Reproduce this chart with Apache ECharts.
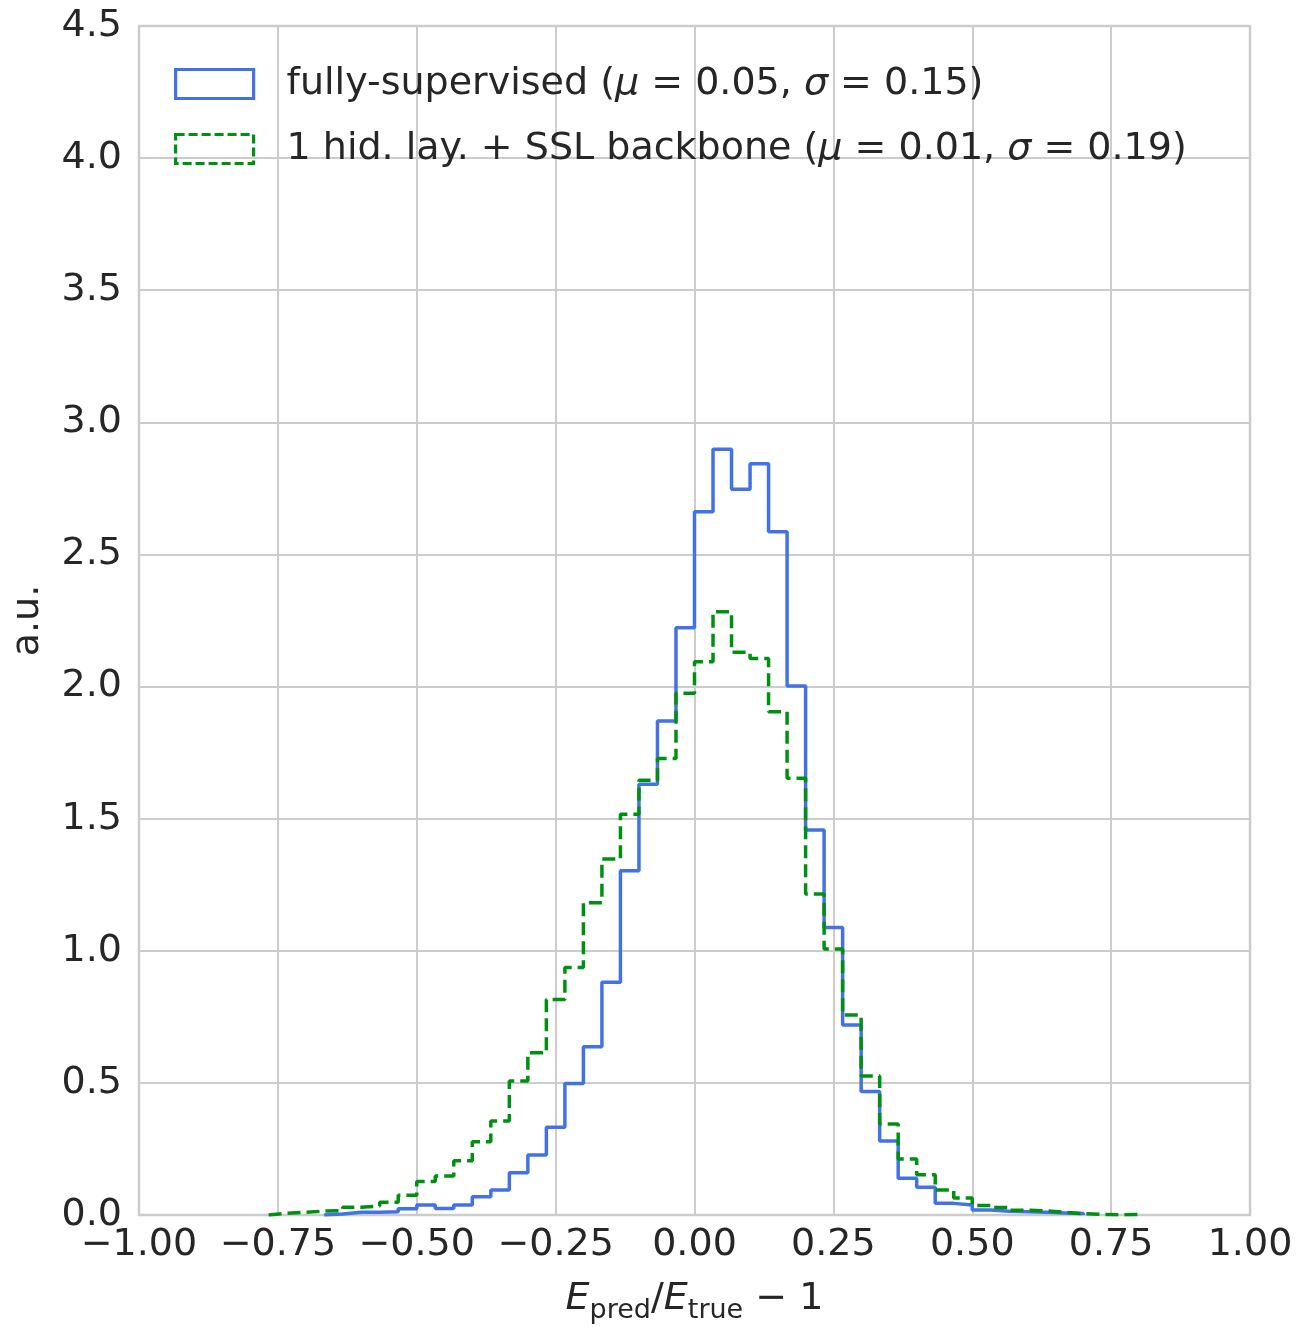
<!DOCTYPE html>
<html>
<head>
<meta charset="utf-8">
<script src="https://cdn.jsdelivr.net/npm/echarts@6/dist/echarts.min.js"></script>
<style>
  html, body { margin: 0; padding: 0; background: #fff; }
  #chart { width: 1300px; height: 1327px; }
</style>
</head>
<body>
<div id="chart"></div>
<script>
// histogram bins: width 1/30, first listed bin starts at -23/30
const binWidth = 1 / 30;
const firstEdge = -23 / 30;

// bin heights (a.u.), one per bin from firstEdge onward
const fullySupervised = [
  0, 0, 0, 0.004, 0.01, 0.01, 0.012, 0.024, 0.038, 0.025,
  0.038, 0.069, 0.095, 0.160, 0.227, 0.332, 0.498, 0.637, 0.881, 1.303,
  1.630, 1.870, 2.223, 2.662, 2.898, 2.747, 2.843, 2.586, 2.002, 1.457,
  1.088, 0.719, 0.467, 0.280, 0.139, 0.105, 0.044, 0.038, 0.019, 0.014,
  0.012, 0.010, 0.008, 0.006, 0, 0, 0
];
const sslBackbone = [
  0.007, 0.010, 0.015, 0.017, 0.029, 0.034, 0.048, 0.075, 0.127, 0.148,
  0.205, 0.277, 0.356, 0.507, 0.614, 0.816, 0.937, 1.182, 1.347, 1.517,
  1.645, 1.728, 1.975, 2.094, 2.283, 2.130, 2.106, 1.905, 1.653, 1.215,
  1.007, 0.757, 0.526, 0.344, 0.212, 0.152, 0.095, 0.064, 0.036, 0.028,
  0.018, 0.016, 0.010, 0.005, 0.002, 0.001, 0.002
];

const yTicks = [0, 0.5, 1, 1.5, 2, 2.5, 3, 3.5, 4, 4.5];
const xTicks = [-1, -0.75, -0.5, -0.25, 0, 0.25, 0.5, 0.75, 1];

const names = [
  '{n|fully-supervised (}{i|μ}{n| = 0.05, }{i|σ}{n| = 0.15)}',
  '{n|1 hid. lay. + SSL backbone (}{i|μ}{n| = 0.01, }{i|σ}{n| = 0.19)}'
];

// turn bin heights into step-line points (left edge of each bin)
function stepPoints(vals) {
  let a = 0, b = vals.length - 1;
  while (a < b && vals[a] === 0) a++;
  while (b > a && vals[b] === 0) b--;
  const pts = [[firstEdge + a * binWidth, 0]];
  for (let k = a; k <= b; k++) pts.push([firstEdge + k * binWidth, vals[k]]);
  pts.push([firstEdge + (b + 1) * binWidth, vals[b]]);
  pts.push([firstEdge + (b + 1) * binWidth, 0]);
  return pts;
}

const fmtMinus = s => s.replace('-', '\u2212');
const textColor = '#262626';
const font = 'DejaVu Sans';
const fs = 38;
const blue = '#4272e6';
const green = '#00900f';

const chart = echarts.init(document.getElementById('chart'), null, { renderer: 'canvas' });

chart.setOption({
  backgroundColor: '#ffffff',
  animation: false,
  textStyle: { fontFamily: font, color: textColor },
  grid: {
    left: 139, right: 50, top: 26, bottom: 112,
    containLabel: false, outerBoundsMode: 'none',
    show: true, borderColor: '#cccccc', borderWidth: 2.5, backgroundColor: 'transparent'
  },
  legend: {
    orient: 'vertical',
    left: 169, top: 60,
    itemWidth: 78, itemHeight: 29, itemGap: 27,
    icon: 'rect',
    textStyle: {
      fontFamily: font, color: textColor, fontSize: fs, padding: [0, 0, 0, 28],
      rich: {
        n: { fontFamily: font, fontSize: fs, lineHeight: 38, color: textColor },
        i: { fontFamily: font, fontSize: fs, lineHeight: 38, color: textColor, fontStyle: 'italic' }
      }
    },
    data: [
      { name: names[0], itemStyle: { color: 'rgba(0,0,0,0)', borderColor: blue, borderWidth: 3.2 } },
      { name: names[1], itemStyle: { color: 'rgba(0,0,0,0)', borderColor: green, borderWidth: 3.2, borderType: [9, 4] } }
    ]
  },
  xAxis: {
    type: 'value', min: -1, max: 1, interval: 0.25,
    axisLine: { show: false }, axisTick: { show: false },
    splitLine: { lineStyle: { color: '#cccccc', width: 2 } },
    axisLabel: {
      fontFamily: font, fontSize: fs, color: textColor, margin: 11,
      formatter: v => fmtMinus(v.toFixed(2))
    },
    name: '{i|E}{s|pred}{n|/}{i|E}{s|true}{n| \u2212 1}',
    nameLocation: 'middle', nameGap: 60,
    nameTextStyle: {
      rich: {
        n: { fontFamily: font, fontSize: fs, color: textColor },
        i: { fontFamily: font, fontSize: fs, color: textColor, fontStyle: 'italic' },
        s: { fontFamily: font, fontSize: 27, color: textColor, padding: [22, 0, 0, 0] }
      }
    }
  },
  yAxis: {
    type: 'value', min: 0, max: 4.5, interval: 0.5,
    axisLine: { show: false }, axisTick: { show: false },
    splitLine: { lineStyle: { color: '#cccccc', width: 2 } },
    axisLabel: {
      fontFamily: font, fontSize: fs, color: textColor, margin: 17,
      formatter: v => v.toFixed(1)
    },
    name: 'a.u.', nameLocation: 'middle', nameGap: 92,
    nameTextStyle: { fontFamily: font, fontSize: fs, color: textColor }
  },
  series: [
    {
      name: names[0], type: 'line', step: 'end', symbol: 'none',
      data: stepPoints(fullySupervised),
      itemStyle: { color: blue },
      lineStyle: { color: blue, width: 3.5 }
    },
    {
      name: names[1], type: 'line', step: 'end', symbol: 'none',
      data: stepPoints(sslBackbone),
      itemStyle: { color: green },
      lineStyle: { color: green, width: 3.5, type: [13, 6] }
    }
  ]
});
</script>
</body>
</html>
